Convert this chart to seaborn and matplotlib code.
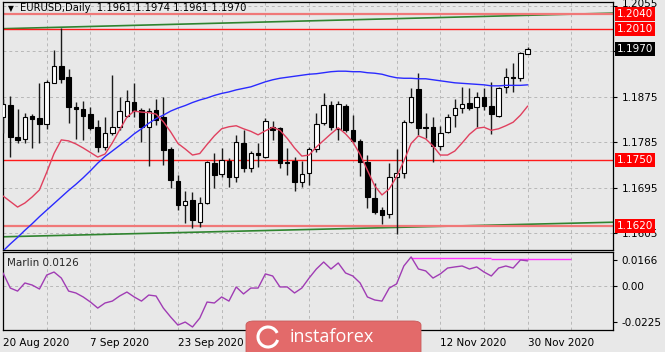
import numpy as np
import pandas as pd
import matplotlib
matplotlib.use("Agg")
import matplotlib.pyplot as plt
import matplotlib.transforms as mtransforms
import seaborn as sns
from matplotlib.patches import FancyBboxPatch, Arc

# ---------------- data ----------------
date_ticks = [0, 12, 24, 36, 48, 60, 72]
date_labels = ["20 Aug 2020", "7 Sep 2020", "23 Sep 2020", "", "", "12 Nov 2020", "30 Nov 2020"]

opens = [1.1835, 1.1859, 1.1796, 1.1792, 1.1837, 1.1833, 1.1821, 1.1903, 1.1936, 1.1915,
         1.1855, 1.1851, 1.1841, 1.1816, 1.1776, 1.1804, 1.1816, 1.1837, 1.1865, 1.1849,
         1.1816, 1.1849, 1.1835, 1.1772, 1.1709, 1.1661, 1.1671, 1.1627, 1.1665, 1.1744,
         1.1722, 1.1748, 1.1717, 1.1784, 1.1734, 1.1764, 1.1756, 1.1816, 1.1814, 1.1746,
         1.1748, 1.1707, 1.1724, 1.1772, 1.1823, 1.1859, 1.1812, 1.1857, 1.1810, 1.1788,
         1.1746, 1.1675, 1.1651, 1.1643, 1.1717, 1.1724, 1.1825, 1.1891, 1.1816, 1.1816,
         1.1778, 1.1806, 1.1839, 1.1853, 1.1863, 1.1855, 1.1875, 1.1857, 1.1837, 1.1895,
         1.1915, 1.1913, 1.1961]
highs = [1.1871, 1.1877, 1.1851, 1.1843, 1.1841, 1.1903, 1.1909, 1.1968, 1.2012, 1.1930,
         1.1865, 1.1867, 1.1855, 1.1829, 1.1835, 1.1919, 1.1875, 1.1889, 1.1903, 1.1853,
         1.1853, 1.1871, 1.1875, 1.1776, 1.1721, 1.1689, 1.1687, 1.1677, 1.1748, 1.1764,
         1.1774, 1.1754, 1.1800, 1.1810, 1.1768, 1.1784, 1.1833, 1.1827, 1.1816, 1.1774,
         1.1756, 1.1748, 1.1776, 1.1843, 1.1883, 1.1867, 1.1867, 1.1861, 1.1839, 1.1792,
         1.1760, 1.1705, 1.1657, 1.1744, 1.1772, 1.1829, 1.1893, 1.1922, 1.1843, 1.1835,
         1.1818, 1.1841, 1.1871, 1.1895, 1.1893, 1.1885, 1.1893, 1.1905, 1.1895, 1.1932,
         1.1942, 1.1964, 1.1974]
lows = [1.1804, 1.1756, 1.1784, 1.1784, 1.1774, 1.1784, 1.1812, 1.1903, 1.1903, 1.1823,
        1.1792, 1.1790, 1.1810, 1.1766, 1.1770, 1.1800, 1.1810, 1.1835, 1.1835, 1.1786,
        1.1738, 1.1819, 1.1740, 1.1695, 1.1651, 1.1625, 1.1616, 1.1618, 1.1663, 1.1695,
        1.1717, 1.1697, 1.1707, 1.1726, 1.1726, 1.1736, 1.1754, 1.1790, 1.1734, 1.1721,
        1.1689, 1.1697, 1.1701, 1.1766, 1.1819, 1.1810, 1.1790, 1.1806, 1.1784, 1.1719,
        1.1655, 1.1643, 1.1623, 1.1635, 1.1604, 1.1715, 1.1823, 1.1800, 1.1794, 1.1746,
        1.1770, 1.1804, 1.1816, 1.1843, 1.1849, 1.1816, 1.1849, 1.1802, 1.1835, 1.1883,
        1.1885, 1.1907, 1.1961]
closes = [1.1861, 1.1796, 1.1790, 1.1835, 1.1831, 1.1821, 1.1905, 1.1936, 1.1911, 1.1855,
          1.1851, 1.1837, 1.1814, 1.1776, 1.1804, 1.1816, 1.1847, 1.1867, 1.1847, 1.1816,
          1.1847, 1.1829, 1.1770, 1.1711, 1.1661, 1.1669, 1.1631, 1.1665, 1.1746, 1.1721,
          1.1750, 1.1717, 1.1786, 1.1734, 1.1764, 1.1760, 1.1827, 1.1810, 1.1744, 1.1744,
          1.1707, 1.1722, 1.1772, 1.1821, 1.1859, 1.1816, 1.1861, 1.1810, 1.1788, 1.1746,
          1.1677, 1.1647, 1.1641, 1.1717, 1.1724, 1.1825, 1.1875, 1.1814, 1.1814, 1.1778,
          1.1804, 1.1835, 1.1853, 1.1861, 1.1853, 1.1875, 1.1857, 1.1841, 1.1893, 1.1915,
          1.1913, 1.1962, 1.1970]

blue_ma = [1.1570, 1.1584, 1.1597, 1.1611, 1.1624, 1.1638, 1.1651, 1.1664, 1.1677, 1.1690,
           1.1702, 1.1715, 1.1729, 1.1744, 1.1757, 1.1768, 1.1779, 1.1790, 1.1802, 1.1812,
           1.1823, 1.1832, 1.1839, 1.1847, 1.1853, 1.1858, 1.1864, 1.1869, 1.1873, 1.1878,
           1.1882, 1.1885, 1.1889, 1.1892, 1.1895, 1.1900, 1.1905, 1.1909, 1.1912, 1.1914,
           1.1916, 1.1918, 1.1920, 1.1921, 1.1923, 1.1925, 1.1926, 1.1926, 1.1925, 1.1925,
           1.1923, 1.1922, 1.1920, 1.1916, 1.1913, 1.1912, 1.1912, 1.1911, 1.1911, 1.1909,
           1.1907, 1.1905, 1.1903, 1.1902, 1.1901, 1.1900, 1.1899, 1.1897, 1.1897, 1.1898,
           1.1898, 1.1898, 1.1899]
red_ma = [1.1679, 1.1668, 1.1657, 1.1665, 1.1677, 1.1691, 1.1726, 1.1763, 1.1790, 1.1788,
          1.1782, 1.1774, 1.1765, 1.1756, 1.1762, 1.1784, 1.1810, 1.1835, 1.1847, 1.1845,
          1.1844, 1.1841, 1.1826, 1.1806, 1.1783, 1.1772, 1.1760, 1.1763, 1.1781, 1.1798,
          1.1812, 1.1816, 1.1818, 1.1812, 1.1807, 1.1800, 1.1808, 1.1815, 1.1809, 1.1793,
          1.1774, 1.1758, 1.1760, 1.1776, 1.1789, 1.1802, 1.1814, 1.1802, 1.1786, 1.1761,
          1.1730, 1.1699, 1.1681, 1.1693, 1.1717, 1.1748, 1.1783, 1.1798, 1.1792, 1.1778,
          1.1760, 1.1760, 1.1768, 1.1784, 1.1801, 1.1813, 1.1815, 1.1809, 1.1812, 1.1818,
          1.1825, 1.1839, 1.1857]
marlin = [0.0082, -0.0013, -0.0032, 0.0019, 0.0006, -0.0019, 0.0069, 0.0088, 0.0050, -0.0032,
          -0.0044, -0.0069, -0.0101, -0.0139, -0.0107, -0.0095, -0.0063, -0.0038, -0.0069, -0.0095,
          -0.0057, -0.0063, -0.0139, -0.0195, -0.0246, -0.0227, -0.0258, -0.0202, -0.0101, -0.0107,
          -0.0069, -0.0095, -0.0006, -0.0050, -0.0013, -0.0013, 0.0076, 0.0063, -0.0006, -0.0006,
          -0.0044, -0.0013, 0.0050, 0.0107, 0.0151, 0.0107, 0.0145, 0.0082, 0.0063, 0.0019,
          -0.0069, -0.0088, -0.0095, -0.0013, 0.0013, 0.0126, 0.0183, 0.0107, 0.0095, 0.0050,
          0.0076, 0.0113, 0.0120, 0.0126, 0.0107, 0.0120, 0.0088, 0.0063, 0.0113, 0.0126,
          0.0113, 0.0164, 0.0158]

level_prices = [1.2040, 1.2010, 1.1750, 1.1620]
level_labels = ["1.2040", "1.2010", "1.1750", "1.1620"]
upper_channel_bars = [-0.4, 83.7]
upper_channel_prices = [1.2010, 1.2041]
lower_channel_bars = [-0.4, 83.7]
lower_channel_prices = [1.1598, 1.1627]
marlin_level_bars = [56, 67, 78]
marlin_level_values = [0.0176, 0.0167]
last_price = 1.1970
price_ticks = [1.1605, 1.1695, 1.1785, 1.1875, 1.1965, 1.2055]
price_tick_labels = ["1.1605", "1.1695", "1.1785", "1.1875", "", "1.2055"]
marlin_ticks = [-0.0225, 0.0, 0.0166]
marlin_tick_labels = ["-0.0225", "0.00", "0.0166"]
title = "EURUSD,Daily  1.1961 1.1974 1.1961 1.1970"
marlin_title = "Marlin 0.0126"

# ---------------- style ----------------
BG = "#e8e8e8"
sns.set_style("white")
plt.rcParams["font.family"] = ["DejaVu Sans"]
plt.rcParams["font.size"] = 7.5

W, H = 665, 352
fig = plt.figure(figsize=(W / 100, H / 100), dpi=100, facecolor=BG)
L, R = 2.5, 613
ax = fig.add_axes([L / W, 1 - 250 / H, (R - L) / W, 248 / H], facecolor=BG)
ax2 = fig.add_axes([L / W, 1 - 330 / H, (R - L) / W, 78 / H], facecolor=BG)

bars = np.arange(len(closes))
df = pd.DataFrame({"bar": bars, "open": opens, "high": highs, "low": lows,
                   "close": closes, "blue": blue_ma, "red": red_ma, "marlin": marlin})

xlim = (-0.07, 83.7)
grid_kw = dict(color="#b8b8b8", lw=0.7, ls=(0, (3, 3)), zorder=0)
for a in (ax, ax2):
    a.set_xlim(*xlim)
    for gx in range(6, 84, 6):
        a.axvline(gx, **grid_kw)
    for s in a.spines.values():
        s.set_color("black")
        s.set_linewidth(0.9)

# main panel
ax.set_ylim(1.1572, 1.2063)
for gy in price_ticks:
    ax.axhline(gy, **grid_kw)

ax.vlines(df["bar"], df["low"], df["high"], color="#1a1a1a", lw=1.0, zorder=3)
up = df["close"] >= df["open"]
body_lo = np.minimum(df["open"], df["close"])
body_h = np.maximum(np.abs(df["close"] - df["open"]), 0.00008)
ax.bar(df["bar"], body_h, bottom=body_lo, width=0.62,
       color=np.where(up, "white", "black"), edgecolor="black", linewidth=0.8, zorder=4)

sns.lineplot(data=df, x="bar", y="blue", ax=ax, color="#2a2aff", lw=1.0, zorder=5)
sns.lineplot(data=df, x="bar", y="red", ax=ax, color="#e0405e", lw=1.0, zorder=5)
sns.lineplot(x=upper_channel_bars, y=upper_channel_prices, ax=ax, color="#2f842f", lw=1.2, zorder=2)
sns.lineplot(x=lower_channel_bars, y=lower_channel_prices, ax=ax, color="#2f842f", lw=1.2, zorder=2)

level_colors = ["#f07878", "#ff1a1a", "#ff1a1a", "#f07878"]
level_lw = [1.6, 1.0, 1.0, 1.6]
for p, c, lw in zip(level_prices, level_colors, level_lw):
    ax.axhline(p, color=c, lw=lw, zorder=2)

ax.yaxis.tick_right()
ax.set_yticks(price_ticks)
ax.set_yticklabels(price_tick_labels)
ax.tick_params(axis="y", direction="out", length=3, width=0.8, pad=3, labelsize=7.5, colors="black")
ax.set_xticks([])
ax.set_xlabel("")
ax.set_ylabel("")
top_lab = ax.get_yticklabels()[-1]
top_lab.set_transform(top_lab.get_transform() +
                      mtransforms.ScaledTranslation(0, 2.5 / 72, fig.dpi_scale_trans))

ytr = ax.get_yaxis_transform()
box_kw = dict(boxstyle="square,pad=0.2", ec="none")
for p, lab in zip(level_prices, level_labels):
    ax.text(1.0065, p, lab, transform=ytr, ha="left", va="center", color="white", fontsize=7.5,
            bbox=dict(fc="#ff0000", **box_kw), zorder=10, clip_on=False)
ax.text(1.0065, last_price, f"{last_price:.4f}", transform=ytr, ha="left", va="center", color="white",
        fontsize=7.5, bbox=dict(fc="black", **box_kw), zorder=10, clip_on=False)

ax.text(0.009, 0.975, "\u25BC", transform=ax.transAxes, ha="left", va="center", fontsize=5.5, color="black")
ax.text(0.029, 0.975, title, transform=ax.transAxes, ha="left", va="center", fontsize=7.2, color="black")

# indicator panel
ax2.set_ylim(-0.0277, 0.0214)
ax2.axhline(0.0, **grid_kw)
sns.lineplot(data=df, x="bar", y="marlin", ax=ax2, color="#a03cb4", lw=1.0, zorder=5)
for i in range(len(marlin_level_values)):
    ax2.hlines(marlin_level_values[i], marlin_level_bars[i], marlin_level_bars[i + 1],
               color="#ff33ff", lw=1.0, zorder=4)
ax2.yaxis.tick_right()
ax2.set_yticks(marlin_ticks)
ax2.set_yticklabels(marlin_tick_labels)
ax2.tick_params(axis="y", direction="out", length=3, width=0.8, pad=3, labelsize=7.5, colors="black")
ax2.set_xticks(date_ticks)
ax2.set_xticklabels(date_labels, ha="left")
ax2.tick_params(axis="x", direction="out", length=3, width=0.8, pad=3, labelsize=7.5, colors="black")
ax2.set_xlabel("")
ax2.set_ylabel("")
ax2.text(0.008, 0.86, marlin_title, transform=ax2.transAxes, ha="left", va="center", fontsize=7.5)

# watermark logo
logo = FancyBboxPatch((246 / W, -0.05), 175 / W, 0.05 + 31 / H,
                      boxstyle="round,pad=0,rounding_size=0.012", transform=fig.transFigure,
                      fc="#e36a6a", ec="#c85a5a", lw=0.6, zorder=20)
fig.patches.append(logo)
arc = Arc((268 / W, 1 - 337 / H), 20 / W, 20 / H, theta1=40, theta2=330,
          transform=fig.transFigure, color="white", lw=2.2, zorder=21)
fig.patches.append(arc)
fig.text(290 / W, 1 - 337 / H, "instaforex", color="white", fontsize=13, ha="left", va="center",
         family=["Open Sans", "DejaVu Sans"], zorder=22)

fig.savefig("out.png", dpi=100, facecolor=BG)
